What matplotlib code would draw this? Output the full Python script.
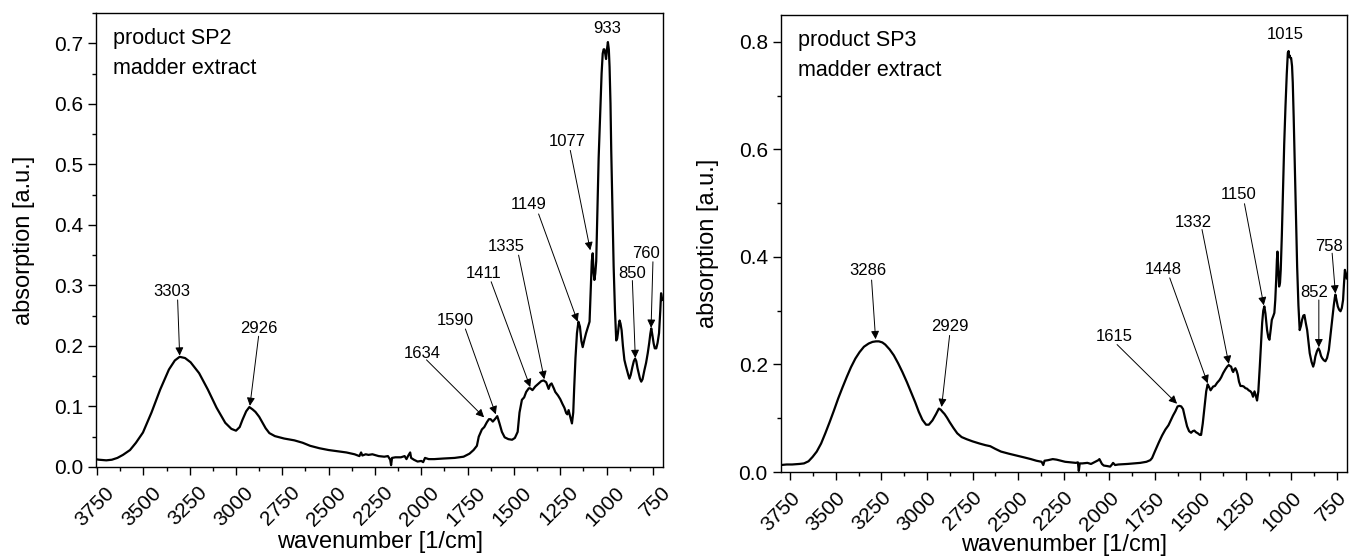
import numpy as np
import matplotlib.pyplot as plt
from matplotlib.ticker import MultipleLocator
from matplotlib.transforms import ScaledTranslation

plt.rcParams['font.family'] = ['Liberation Sans', 'DejaVu Sans']

# SP2 spectrum (wavenumber [1/cm], absorption [a.u.])
wn_sp2 = [3759, 3740, 3700, 3670, 3640, 3610, 3572, 3540, 3502, 3456, 3409, 3362, 3330,
          3304, 3275, 3245, 3199, 3152, 3105, 3058, 3025, 3000, 2980, 2965, 2945, 2928,
          2910, 2895, 2875, 2860, 2840, 2820, 2790, 2740, 2685, 2640, 2600, 2550, 2500,
          2450, 2404, 2360, 2334, 2325, 2318, 2300, 2285, 2264, 2230, 2200, 2180, 2168,
          2163, 2158, 2140, 2110, 2090, 2080, 2070, 2060, 2055, 2040, 2020, 2000, 1990,
          1980, 1960, 1930, 1880, 1820, 1772, 1740, 1718, 1700, 1690, 1673, 1660, 1646,
          1635, 1626, 1614, 1600, 1590, 1578, 1565, 1550, 1530, 1510, 1495, 1480, 1470,
          1457, 1445, 1434, 1420, 1412, 1400, 1385, 1367, 1352, 1340, 1326, 1313, 1305,
          1297, 1285, 1277, 1262, 1250, 1238, 1228, 1218, 1212, 1205, 1198, 1187, 1180,
          1175, 1168, 1160, 1152, 1144, 1136, 1129, 1120, 1111, 1100, 1092, 1086, 1080,
          1075, 1070, 1066, 1061, 1056, 1050, 1043, 1034, 1027, 1021, 1016, 1012, 1007,
          1003, 998, 993, 988, 984, 979, 975, 968, 962, 955, 948, 943, 939, 934, 930,
          925, 919, 912, 904, 897, 890, 883, 877, 870, 861, 853, 846, 840, 833, 827,
          820, 813, 806, 796, 787, 778, 770, 764, 759, 754, 746, 740, 732, 725, 717,
          710, 706, 702, 699]
abs_sp2 = [0.013, 0.012, 0.011, 0.012, 0.015, 0.020, 0.028, 0.040, 0.057, 0.090, 0.128, 0.161, 0.176,
           0.182, 0.180, 0.173, 0.155, 0.128, 0.098, 0.073, 0.063, 0.060, 0.066, 0.078, 0.092, 0.099,
           0.095, 0.091, 0.083, 0.075, 0.064, 0.056, 0.051, 0.047, 0.044, 0.040, 0.035, 0.031, 0.028,
           0.026, 0.024, 0.021, 0.018, 0.024, 0.019, 0.021, 0.020, 0.021, 0.018, 0.017, 0.018, 0.012,
           0.003, 0.015, 0.016, 0.016, 0.018, 0.013, 0.019, 0.024, 0.015, 0.012, 0.009, 0.010, 0.008,
           0.015, 0.013, 0.013, 0.014, 0.015, 0.017, 0.022, 0.028, 0.035, 0.050, 0.062, 0.066, 0.074,
           0.079, 0.079, 0.075, 0.080, 0.084, 0.072, 0.058, 0.049, 0.046, 0.045, 0.048, 0.058, 0.090,
           0.111, 0.115, 0.124, 0.130, 0.130, 0.127, 0.133, 0.138, 0.142, 0.143, 0.140, 0.129, 0.136,
           0.138, 0.130, 0.124, 0.118, 0.112, 0.104, 0.098, 0.089, 0.087, 0.094, 0.085, 0.072, 0.090,
           0.130, 0.180, 0.221, 0.240, 0.232, 0.208, 0.198, 0.210, 0.221, 0.232, 0.240, 0.290, 0.340,
           0.353, 0.320, 0.309, 0.320, 0.340, 0.420, 0.510, 0.589, 0.650, 0.683, 0.690, 0.690, 0.682,
           0.674, 0.690, 0.702, 0.690, 0.661, 0.600, 0.523, 0.420, 0.331, 0.260, 0.209, 0.212, 0.221, 0.235, 0.242,
           0.237, 0.226, 0.200, 0.177, 0.168, 0.160, 0.152, 0.146, 0.152, 0.165, 0.175, 0.179, 0.175, 0.163, 0.155,
           0.146, 0.141, 0.145, 0.160, 0.172, 0.188, 0.205, 0.220, 0.229, 0.220, 0.204, 0.196, 0.196, 0.205, 0.221,
           0.260, 0.287, 0.280, 0.276]

# SP3 spectrum
wn_sp3 = [3801, 3770, 3740, 3700, 3675, 3650, 3628, 3605, 3581, 3558, 3534, 3510, 3487, 3464,
          3440, 3417, 3393, 3370, 3346, 3320, 3299, 3280, 3264, 3245, 3229, 3205, 3182, 3158,
          3135, 3110, 3088, 3065, 3045, 3025, 3005, 2990, 2970, 2950, 2935, 2925, 2915, 2904,
          2890, 2876, 2855, 2834, 2810, 2782, 2750, 2712, 2680, 2653, 2625, 2594, 2550, 2500,
          2465, 2430, 2400, 2371, 2362, 2355, 2336, 2310, 2289, 2265, 2242, 2210, 2183, 2172,
          2167, 2162, 2148, 2120, 2100, 2077, 2060, 2054, 2040, 2030, 2010, 1995, 1985, 1979,
          1968, 1950, 1900, 1866, 1830, 1796, 1775, 1765, 1750, 1728, 1710, 1692, 1675, 1664,
          1650, 1637, 1625, 1615, 1605, 1595, 1585, 1573, 1562, 1551, 1542, 1533, 1524, 1514,
          1503, 1496, 1487, 1478, 1468, 1460, 1452, 1444, 1430, 1420, 1408, 1395, 1386, 1375,
          1363, 1353, 1344, 1337, 1331, 1325, 1320, 1314, 1308, 1301, 1295, 1288, 1280, 1270,
          1262, 1253, 1244, 1235, 1225, 1218, 1211, 1203, 1196, 1189, 1182, 1174, 1167, 1161,
          1155, 1149, 1143, 1134, 1127, 1121, 1114, 1108, 1100, 1094, 1089, 1084, 1080, 1077,
          1073, 1068, 1063, 1059, 1053, 1046, 1040, 1033, 1026, 1020, 1016, 1013, 1011, 1006,
          1002, 997, 993, 988, 982, 975, 969, 962, 955, 948, 942, 935, 929, 922, 914, 907,
          900, 890, 881, 875, 869, 860, 852, 845, 838, 832, 823, 814, 805, 795, 786, 777,
          768, 762, 759, 753, 746, 739, 731, 724, 717, 712, 707, 702, 697]
abs_sp3 = [0.013, 0.014, 0.014, 0.015, 0.016, 0.020, 0.028, 0.038, 0.053, 0.072, 0.093, 0.115, 0.137, 0.157,
           0.177, 0.195, 0.211, 0.223, 0.233, 0.239, 0.242, 0.243, 0.243, 0.241, 0.237, 0.228, 0.217, 0.202,
           0.186, 0.167, 0.149, 0.130, 0.112, 0.097, 0.088, 0.088, 0.096, 0.108, 0.118, 0.116, 0.112, 0.108,
           0.101, 0.093, 0.082, 0.072, 0.065, 0.061, 0.057, 0.053, 0.050, 0.048, 0.043, 0.038, 0.034, 0.030,
           0.027, 0.024, 0.021, 0.019, 0.013, 0.021, 0.022, 0.024, 0.023, 0.021, 0.019, 0.018, 0.017, 0.018,
           0.002, 0.016, 0.016, 0.017, 0.015, 0.019, 0.022, 0.024, 0.015, 0.012, 0.011, 0.010, 0.014, 0.017,
           0.013, 0.014, 0.015, 0.016, 0.017, 0.019, 0.022, 0.026, 0.038, 0.055, 0.068, 0.079, 0.087, 0.095,
           0.105, 0.113, 0.122, 0.123, 0.122, 0.117, 0.102, 0.085, 0.076, 0.073, 0.076, 0.077, 0.074, 0.072,
           0.069, 0.069, 0.090, 0.119, 0.150, 0.163, 0.158, 0.152, 0.159, 0.160, 0.166, 0.171, 0.176, 0.184,
           0.191, 0.196, 0.199, 0.197, 0.196, 0.189, 0.186, 0.191, 0.193, 0.188, 0.181, 0.168, 0.160, 0.160,
           0.159, 0.156, 0.155, 0.152, 0.150, 0.147, 0.140, 0.150, 0.142, 0.133, 0.150, 0.196, 0.240, 0.277,
           0.300, 0.308, 0.295, 0.264, 0.250, 0.246, 0.265, 0.283, 0.290, 0.296, 0.320, 0.358, 0.395, 0.410,
           0.380, 0.345, 0.352, 0.376, 0.440, 0.531, 0.610, 0.680, 0.740, 0.780, 0.783, 0.772, 0.775, 0.770,
           0.770, 0.755, 0.724, 0.660, 0.569, 0.470, 0.382, 0.310, 0.264, 0.272, 0.283, 0.291, 0.292, 0.278, 0.264, 0.243,
           0.221, 0.205, 0.196, 0.203, 0.215, 0.225, 0.230, 0.225, 0.216, 0.212, 0.208, 0.206, 0.212, 0.227, 0.255, 0.283,
           0.310, 0.325, 0.330, 0.320, 0.308, 0.302, 0.299, 0.305, 0.320, 0.350, 0.376, 0.370, 0.360]

# peak labels: text, text position, arrow start, arrow tip (None = no arrow)
labels_sp2 = ['3303', '2926', '1634', '1590', '1411', '1335', '1149', '1077', '933', '850', '760']
text_sp2 = [(3346, 0.290), (2876, 0.228), (1995, 0.187), (1815, 0.242), (1664, 0.319), (1542, 0.364),
            (1421, 0.434), (1214, 0.537), (998, 0.724), (861, 0.319), (789, 0.353)]
start_sp2 = [(3315, 0.276), (2878, 0.216), (1972, 0.177), (1762, 0.228), (1623, 0.306), (1475, 0.350),
             (1367, 0.418), (1196, 0.523), None, (861, 0.308), (750, 0.339)]
tip_sp2 = [(3304, 0.184), (2925, 0.101), (1661, 0.082), (1598, 0.087), (1412, 0.132), (1336, 0.145),
           (1156, 0.240), (1088, 0.358), None, (845, 0.180), (760, 0.230)]

labels_sp3 = ['3286', '2929', '1615', '1448', '1332', '1150', '1015', '852', '758']
text_sp3 = [(3322, 0.375), (2876, 0.270), (1975, 0.252), (1705, 0.376), (1536, 0.464), (1289, 0.516),
            (1033, 0.814), (878, 0.333), (795, 0.420)]
start_sp3 = [(3304, 0.357), (2876, 0.254), (1957, 0.237), (1668, 0.361), (1491, 0.451), (1258, 0.499),
             None, (850, 0.320), (777, 0.407)]
tip_sp3 = [(3282, 0.247), (2920, 0.121), (1628, 0.127), (1460, 0.165), (1344, 0.201), (1152, 0.310),
           None, (850, 0.232), (759, 0.332)]


def draw_panel(ax, wn, ab, title, xlim, ylim, ymajor, labels, texts, starts, tips,
               xlab_y, shift_px):
    ax.plot(wn, ab, color='k', lw=1.6)
    ax.set_xlim(*xlim)
    ax.set_ylim(*ylim)
    ax.xaxis.set_major_locator(MultipleLocator(250))
    ax.xaxis.set_minor_locator(MultipleLocator(125))
    ax.yaxis.set_major_locator(MultipleLocator(ymajor))
    ax.yaxis.set_minor_locator(MultipleLocator(ymajor / 2))
    ax.yaxis.set_major_formatter(lambda v, p: f'{v:.1f}')
    ax.tick_params(which='major', direction='out', length=6, width=1.0, labelsize=15, color='k')
    ax.tick_params(which='minor', direction='out', length=3, width=1.0)
    ax.tick_params(axis='x', which='major', pad=5.5)
    # rotated tick labels sit a little to the right of their ticks
    shift = ScaledTranslation(shift_px / 100, 0, fig.dpi_scale_trans)
    for lab in ax.get_xticklabels():
        lab.set_rotation(45)
        lab.set_ha('right')
        lab.set_rotation_mode('anchor')
        lab.set_transform(lab.get_transform() + shift)
    for s in ax.spines.values():
        s.set_linewidth(1.0)
    ax.set_xlabel('wavenumber [1/cm]', fontsize=17)
    ax.xaxis.set_label_coords(0.5, xlab_y)
    ax.set_ylabel('absorption [a.u.]', fontsize=17, labelpad=14)
    ax.text(0.03, 0.968, title, transform=ax.transAxes, ha='left', va='top',
            fontsize=15.5, linespacing=1.6)
    for lab, t, s, tp in zip(labels, texts, starts, tips):
        ax.text(t[0], t[1], lab, ha='center', va='center', fontsize=12)
        if s is not None:
            ax.annotate('', xy=tp, xytext=s,
                        arrowprops=dict(arrowstyle='-|>', color='k', lw=0.7,
                                        mutation_scale=12, shrinkA=0, shrinkB=0))


fig = plt.figure(figsize=(13.51, 5.58), dpi=100)
ax1 = fig.add_axes([0.0714, 0.1631, 0.4193, 0.8136])
ax2 = fig.add_axes([0.5781, 0.1541, 0.4190, 0.8190])

draw_panel(ax1, wn_sp2, abs_sp2, 'product SP2\nmadder extract', (3753, 696), (0, 0.75), 0.1,
           labels_sp2, text_sp2, start_sp2, tip_sp2, -0.141, 8)
draw_panel(ax2, wn_sp3, abs_sp3, 'product SP3\nmadder extract', (3801, 695), (0, 0.85), 0.2,
           labels_sp3, text_sp3, start_sp3, tip_sp3, -0.136, 0)

fig.savefig('out.png', dpi=100)
